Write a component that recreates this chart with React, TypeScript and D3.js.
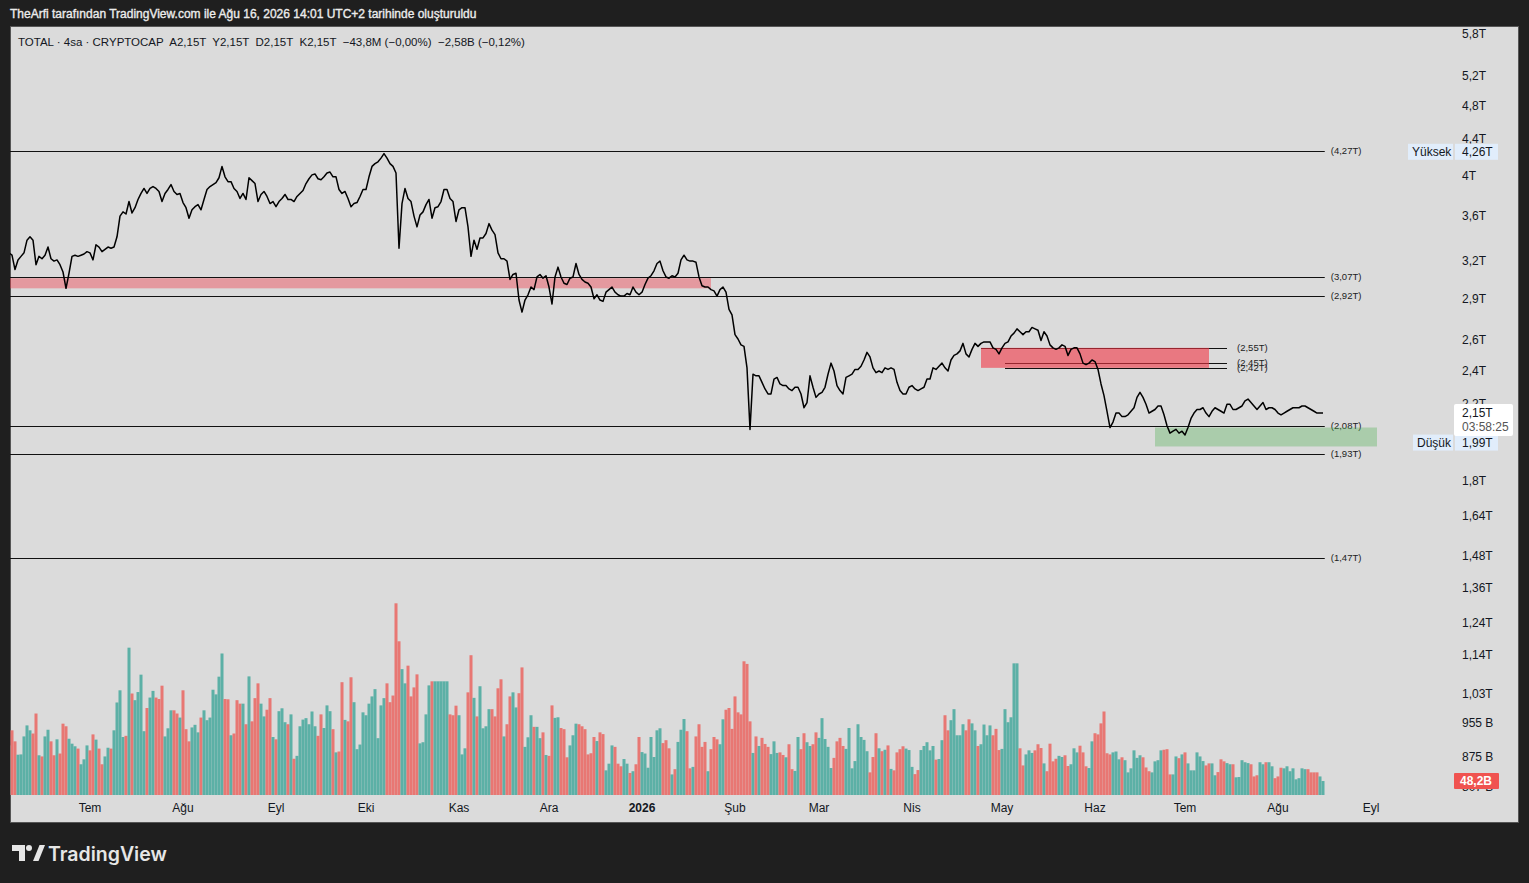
import React from 'react';
import * as d3 from 'd3';

const W = 1529;
const H = 883;
const DAY = 86400000;
const FONT = "'Liberation Sans', Arial, sans-serif";

// daily closes (trillion USD), first day 2025-06-04
const priceStart = Date.UTC(2025, 5, 4);
const priceT = [
  3.27, 3.25, 3.13, 3.21, 3.24, 3.27, 3.38, 3.41, 3.38, 3.17,
  3.24, 3.22, 3.25, 3.32, 3.22, 3.20, 3.21, 3.17, 3.11, 2.98,
  3.10, 3.24, 3.25, 3.24, 3.25, 3.26, 3.28, 3.27, 3.21, 3.34,
  3.32, 3.28, 3.30, 3.32, 3.31, 3.32, 3.41, 3.60, 3.64, 3.62,
  3.74, 3.63, 3.68, 3.76, 3.82, 3.87, 3.82, 3.87, 3.89, 3.87,
  3.84, 3.74, 3.82, 3.86, 3.91, 3.84, 3.81, 3.82, 3.73, 3.68,
  3.58, 3.66, 3.69, 3.71, 3.66, 3.76, 3.86, 3.89, 3.91, 3.93,
  3.98, 4.10, 3.99, 3.94, 3.94, 3.87, 3.84, 3.77, 3.82, 3.76,
  3.98, 3.95, 3.92, 3.74, 3.81, 3.84, 3.79, 3.72, 3.74, 3.69,
  3.74, 3.77, 3.81, 3.76, 3.76, 3.74, 3.79, 3.82, 3.85, 3.92,
  3.97, 4.01, 4.02, 3.97, 3.96, 3.99, 4.03, 4.04, 3.99, 3.99,
  3.86, 3.82, 3.84, 3.77, 3.69, 3.72, 3.73, 3.79, 3.86, 3.86,
  3.99, 4.10, 4.13, 4.15, 4.19, 4.24, 4.19, 4.13, 4.10, 4.03,
  3.31, 3.72, 3.87, 3.77, 3.74, 3.60, 3.50, 3.61, 3.64, 3.71,
  3.76, 3.58, 3.68, 3.69, 3.74, 3.86, 3.86, 3.77, 3.74, 3.55,
  3.66, 3.68, 3.68, 3.50, 3.24, 3.38, 3.30, 3.40, 3.40, 3.44,
  3.53, 3.47, 3.43, 3.27, 3.22, 3.22, 3.20, 3.05, 3.09, 3.10,
  2.89, 2.80, 2.89, 2.93, 2.99, 2.97, 3.07, 3.09, 3.06, 3.08,
  2.99, 2.86, 3.07, 3.15, 3.07, 3.02, 3.01, 3.06, 3.07, 3.18,
  3.09, 3.05, 3.03, 3.02, 2.99, 2.90, 2.93, 2.89, 2.88, 2.95,
  2.97, 2.99, 2.95, 2.93, 2.92, 2.92, 2.94, 2.93, 2.99, 2.95,
  2.93, 2.95, 3.01, 3.06, 3.08, 3.12, 3.18, 3.20, 3.12, 3.07,
  3.06, 3.08, 3.07, 3.10, 3.21, 3.25, 3.21, 3.20, 3.20, 3.19,
  3.07, 3.00, 2.99, 2.99, 2.97, 2.96, 2.92, 2.97, 2.99, 2.95,
  2.82, 2.78, 2.64, 2.61, 2.57, 2.56, 2.42, 2.06, 2.38, 2.37,
  2.37, 2.33, 2.29, 2.26, 2.26, 2.35, 2.36, 2.32, 2.31, 2.31,
  2.29, 2.28, 2.30, 2.30, 2.26, 2.18, 2.21, 2.37, 2.30, 2.24,
  2.26, 2.27, 2.30, 2.38, 2.45, 2.40, 2.31, 2.28, 2.26, 2.36,
  2.37, 2.38, 2.41, 2.41, 2.43, 2.47, 2.52, 2.49, 2.42, 2.39,
  2.40, 2.39, 2.42, 2.41, 2.42, 2.41, 2.33, 2.28, 2.26, 2.26,
  2.30, 2.31, 2.29, 2.28, 2.29, 2.30, 2.35, 2.35, 2.42, 2.41,
  2.43, 2.45, 2.42, 2.40, 2.47, 2.50, 2.51, 2.53, 2.58, 2.51,
  2.49, 2.54, 2.58, 2.56, 2.58, 2.59, 2.59, 2.59, 2.55, 2.54,
  2.51, 2.55, 2.58, 2.59, 2.63, 2.65, 2.68, 2.66, 2.64, 2.66,
  2.66, 2.69, 2.68, 2.67, 2.60, 2.66, 2.63, 2.57, 2.55, 2.54,
  2.55, 2.57, 2.56, 2.50, 2.54, 2.55, 2.55, 2.51, 2.45, 2.44,
  2.45, 2.47, 2.46, 2.41, 2.32, 2.25, 2.16, 2.07, 2.10, 2.15,
  2.15, 2.13, 2.13, 2.14, 2.16, 2.18, 2.24, 2.27, 2.24, 2.20,
  2.15, 2.16, 2.17, 2.19, 2.19, 2.14, 2.08, 2.04, 2.05, 2.06,
  2.04, 2.05, 2.03, 2.07, 2.12, 2.15, 2.17, 2.17, 2.18, 2.15,
  2.13, 2.16, 2.18, 2.17, 2.16, 2.15, 2.20, 2.20, 2.17, 2.17,
  2.18, 2.19, 2.22, 2.23, 2.21, 2.19, 2.17, 2.19, 2.21, 2.17,
  2.18, 2.18, 2.17, 2.15, 2.14, 2.15, 2.16, 2.17, 2.18, 2.18,
  2.18, 2.19, 2.19, 2.18, 2.17, 2.16, 2.15, 2.15, 2.15,
];

// daily volume (billion USD), 2025-06-04 .. 2026-01-19
const volumeA = [
  171, 223, 185, 139, 140, 202, 240, 223, 212, 281,
  137, 133, 202, 225, 185, 137, 192, 143, 246, 237,
  194, 177, 168, 160, 106, 123, 171, 154, 209, 191,
  160, 106, 133, 163, 160, 223, 319, 361, 200, 204,
  508, 350, 327, 355, 415, 220, 300, 336, 359, 336,
  331, 377, 202, 230, 292, 292, 281, 267, 361, 227,
  185, 233, 242, 216, 267, 292, 258, 267, 363, 347,
  408, 488, 331, 330, 206, 212, 327, 315, 315, 244,
  409, 254, 334, 385, 315, 271, 294, 334, 200, 192,
  289, 299, 251, 244, 278, 125, 135, 237, 260, 265,
  244, 288, 237, 204, 278, 231, 309, 289, 227, 147,
  150, 389, 259, 254, 406, 320, 158, 174, 285, 275,
  315, 340, 365, 196, 309, 334, 385, 320, 343, 661,
  530, 434, 385, 446, 340, 371, 416, 178, 182, 278,
  378, 392, 392, 392, 392, 392, 392, 278, 275, 308,
  275, 140, 161, 354, 482, 335, 271, 375, 230, 237,
  296, 296, 271, 368, 399, 202, 244, 340, 354, 302,
  351, 440, 166, 199, 275, 235, 235, 196, 216, 138,
  135, 309, 266, 268, 231, 227, 130, 171, 206, 246,
  244, 237, 227, 140, 144, 200, 186, 216, 210, 85,
  108, 171, 166, 108, 99, 124, 108, 76, 82, 106,
  200, 148, 143, 94, 200, 131, 223, 230, 179, 189,
  161, 71, 89, 183, 225, 262, 220, 92, 97, 202,
];

// daily volume (billion USD), 2026-01-20 .. 2026-08-16
const volumeBStart = Date.UTC(2026, 0, 20);
const volumeB = [
  244, 166, 183, 82, 158, 200, 192, 175, 261, 294,
  300, 228, 340, 285, 278, 461, 452, 254, 145, 202,
  169, 197, 176, 166, 141, 185, 145, 147, 138, 130,
  175, 89, 83, 200, 158, 213, 182, 169, 175, 216,
  197, 265, 193, 166, 93, 128, 185, 197, 169, 159,
  231, 92, 117, 244, 200, 190, 151, 78, 131, 213,
  161, 151, 156, 171, 90, 85, 147, 158, 168, 160,
  155, 97, 72, 86, 155, 169, 182, 154, 169, 122,
  124, 189, 275, 223, 258, 296, 206, 206, 244, 223,
  261, 247, 223, 169, 175, 243, 206, 240, 206, 228,
  155, 159, 296, 251, 268, 454, 454, 161, 102, 140,
  154, 145, 154, 175, 162, 109, 82, 177, 116, 125,
  135, 131, 137, 100, 106, 161, 147, 170, 147, 99,
  93, 185, 213, 209, 247, 288, 144, 140, 147, 150,
  123, 130, 120, 78, 92, 154, 128, 137, 130, 95,
  82, 78, 116, 120, 154, 156, 158, 71, 71, 133,
  127, 140, 147, 109, 85, 85, 147, 133, 117, 102,
  109, 109, 68, 79, 123, 116, 110, 106, 106, 61,
  62, 120, 113, 110, 106, 64, 68, 113, 106, 113,
  113, 99, 58, 64, 94, 92, 99, 82, 92, 54,
  58, 92, 89, 89, 78, 78, 78, 64, 48.2,
];

const levelLines = [4.27, 3.07, 2.92, 2.08, 1.93, 1.47];
const zoneLines = [2.55, 2.45, 2.42];
// [start, end, low, high] in dates / trillions
const redBand = [Date.UTC(2025, 5, 1), Date.UTC(2026, 0, 24), 2.98, 3.06];
const redBox = [Date.UTC(2026, 3, 24), Date.UTC(2026, 6, 9), 2.42, 2.55];
const greenBox = [Date.UTC(2026, 5, 21), Date.UTC(2026, 8, 3), 1.97, 2.07];
const zoneLineStart = [Date.UTC(2026, 3, 24), Date.UTC(2026, 4, 2), Date.UTC(2026, 4, 2)];
const zoneLineEnd = Date.UTC(2026, 6, 15);
const lastBar = Date.UTC(2026, 7, 16, 14);

const axisTicks = [5.8, 5.2, 4.8, 4.4, 4, 3.6, 3.2, 2.9, 2.6, 2.4, 2.2, 1.8, 1.64, 1.48, 1.36, 1.24, 1.14, 1.03, 0.955, 0.875, 0.807];
const monthNames = ['Oca', 'Şub', 'Mar', 'Nis', 'May', 'Haz', 'Tem', 'Ağu', 'Eyl', 'Eki', 'Kas', 'Ara'];
const sessionHigh = 4.26;
const sessionLow = 1.99;
const lastPrice = 2.15;
const lastVolume = 48.2;

const fmtT = (v: number) => String(v).replace('.', ',') + 'T';
const fmtAxis = (v: number) => (v >= 1 ? fmtT(v) : `${Math.round(v * 1000)} B`);

const App = () => {
  const panel = { x0: 10, y0: 26, x1: 1518, y1: 822 };

  const x = d3.scaleUtc()
    .domain([new Date(Date.UTC(2025, 5, 1)), new Date(Date.UTC(2026, 8, 1))])
    .range([0, 1371]);
  const y = d3.scaleLog().domain([0.875, 5.8]).range([756.5, 33.9]);
  const yVol = d3.scaleLinear().domain([0, 700]).range([795, 592]);

  const priceDate = (i: number) => new Date(priceStart + i * DAY);
  const line = d3.line<number>()
    .x((_, i) => x(priceDate(i)))
    .y((v) => y(v));

  const bars = [
    ...volumeA.map((v, i) => ({ v, d: i })),
    ...volumeB.map((v, j) => ({ v, d: Math.round((volumeBStart - priceStart) / DAY) + j })),
  ];
  const isUp = (d: number) => d === 0 || priceT[d] >= priceT[d - 1];

  const months = d3.utcMonth.range(new Date(Date.UTC(2025, 6, 1)), new Date(Date.UTC(2026, 8, 2)));

  const rectOf = (z: number[]) => ({
    x: Math.max(panel.x0, x(new Date(z[0]))),
    w: x(new Date(z[1])) - Math.max(panel.x0, x(new Date(z[0]))),
    y: y(z[3]),
    h: y(z[2]) - y(z[3]),
  });
  const band = rectOf(redBand);
  const box = rectOf(redBox);
  const gbox = rectOf(greenBox);
  const xEnd = x(new Date(lastBar));
  const xZoneEnd = x(new Date(zoneLineEnd));
  const axisX = 1462;

  return (
    <svg width={W} height={H} style={{ position: 'absolute', left: 0, top: 0 }} fontFamily={FONT}>
      <defs>
        <clipPath id="plot">
          <rect x={panel.x0} y={panel.y0} width={panel.x1 - panel.x0} height={panel.y1 - panel.y0} />
        </clipPath>
      </defs>
      <rect width={W} height={H} fill="#1f1f1f" />
      <text x={10} y={18} fontSize={12} fill="#ececec" stroke="#ececec" strokeWidth={0.35}>
        TheArfi tarafından TradingView.com ile Ağu 16, 2026 14:01 UTC+2 tarihinde oluşturuldu
      </text>
      <rect x={panel.x0 + 0.5} y={panel.y0 + 0.5} width={panel.x1 - panel.x0} height={panel.y1 - panel.y0}
        fill="#dbdbdb" stroke="#555" />

      <g clipPath="url(#plot)">
        {/* volume */}
        {bars.map((b, i) => (
          <rect key={i} x={x(priceDate(b.d)) - 1.5} width={3} y={yVol(b.v)} height={yVol(0) - yVol(b.v)}
            fill={isUp(b.d) ? '#5cb0a6' : '#e87773'} />
        ))}

        {/* level lines */}
        {levelLines.map((v) => (
          <g key={v}>
            <line x1={panel.x0} x2={xEnd} y1={Math.round(y(v)) + 0.5} y2={Math.round(y(v)) + 0.5} stroke="#111" />
            <text x={xEnd + 6} y={y(v) + 3} fontSize={9.5} fill="#222">({fmtT(v)})</text>
          </g>
        ))}
        {zoneLines.map((v, i) => (
          <g key={v}>
            <line x1={x(new Date(zoneLineStart[i]))} x2={xZoneEnd} y1={Math.round(y(v)) + 0.5} y2={Math.round(y(v)) + 0.5} stroke="#111" />
            <text x={xZoneEnd + 10} y={y(v) + 3} fontSize={9.5} fill="#222">({fmtT(v)})</text>
          </g>
        ))}

        {/* zones */}
        <rect x={band.x} y={band.y} width={band.w} height={band.h} fill="rgba(242,54,69,0.4)" />
        <rect x={box.x} y={box.y} width={box.w} height={box.h} fill="rgba(242,54,69,0.6)" />
        <rect x={gbox.x} y={gbox.y} width={gbox.w} height={gbox.h} fill="rgba(76,175,80,0.34)" />

        {/* price */}
        <path d={line(priceT) || ''} fill="none" stroke="#000" strokeWidth={1.5} strokeLinejoin="round" />
      </g>

      {/* legend */}
      <text x={18} y={46} fontSize={11.5} fill="#131722" style={{ whiteSpace: 'pre' }}>
        {'TOTAL · 4sa · CRYPTOCAP  A2,15T  Y2,15T  D2,15T  K2,15T  −43,8M (−0,00%)  −2,58B (−0,12%)'}
      </text>

      {/* price axis */}
      {axisTicks.map((v) => (
        <text key={v} x={axisX} y={y(v) + 4} fontSize={12} fill="#131722">{fmtAxis(v)}</text>
      ))}
      <g>
        <rect x={1408} y={y(sessionHigh) - 8} width={45} height={16} fill="#e1edfb" />
        <text x={1412} y={y(sessionHigh) + 4} fontSize={12} fill="#131722">Yüksek</text>
        <rect x={1455} y={y(sessionHigh) - 8} width={43} height={16} fill="#e1edfb" />
        <text x={axisX} y={y(sessionHigh) + 4} fontSize={12} fill="#131722">{fmtT(sessionHigh)}</text>
      </g>
      <g>
        <rect x={1413} y={y(sessionLow) - 8} width={40} height={16} fill="#e1edfb" />
        <text x={1417} y={y(sessionLow) + 4} fontSize={12} fill="#131722">Düşük</text>
        <rect x={1455} y={y(sessionLow) - 8} width={43} height={16} fill="#e1edfb" />
        <text x={axisX} y={y(sessionLow) + 4} fontSize={12} fill="#131722">{fmtT(sessionLow)}</text>
      </g>
      <g>
        <rect x={1454} y={y(lastPrice) - 9} width={59} height={32} fill="#fff" rx={2} />
        <text x={axisX} y={y(lastPrice) + 4} fontSize={12} fill="#131722">{fmtT(lastPrice)}</text>
        <text x={axisX} y={y(lastPrice) + 18} fontSize={12} fill="#555">03:58:25</text>
      </g>
      <g>
        <rect x={1454} y={yVol(lastVolume) - 8} width={45} height={16} fill="#f05350" rx={1} />
        <text x={1460} y={yVol(lastVolume) + 4} fontSize={12} fill="#fff" fontWeight="bold">
          {String(lastVolume).replace('.', ',')}B
        </text>
      </g>

      {/* time axis */}
      {months.map((m) => (
        <text key={+m} x={x(m)} y={812} fontSize={12} fill="#131722" textAnchor="middle"
          fontWeight={m.getUTCMonth() === 0 ? 'bold' : 'normal'}>
          {m.getUTCMonth() === 0 ? m.getUTCFullYear() : monthNames[m.getUTCMonth()]}
        </text>
      ))}

      {/* logo */}
      <g fill="#e6e6e6">
        <path d="M12 845 H25 V861 H19 V851 H12 Z" />
        <circle cx={29} cy={848} r={3} />
        <path d="M33 861 L39.5 845 H45 L38.5 861 Z" />
        <text x={48} y={861} fontSize={19.5} fontWeight={600} fontFamily="Inter, sans-serif">TradingView</text>
      </g>
    </svg>
  );
};

export default App;
